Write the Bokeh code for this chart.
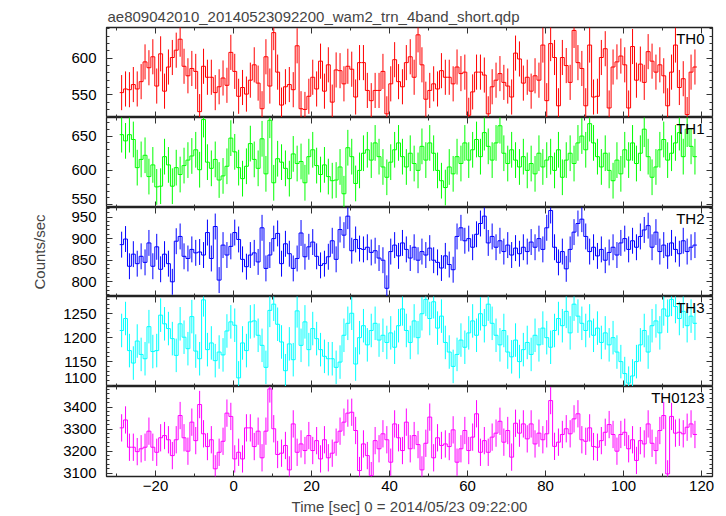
import numpy as np
from bokeh.plotting import figure
from bokeh.layouts import column
from bokeh.models import (LinearAxis, Range1d, Label, SingleIntervalTicker, FixedTicker,
                          CustomLabelingPolicy)
from bokeh.embed import file_html
from bokeh.resources import INLINE

title_text = "ae809042010_20140523092200_wam2_trn_4band_short.qdp"
x_label = "Time [sec] 0 = 2014/05/23 09:22:00"
y_label = "Counts/sec"
band_names = ["TH0", "TH1", "TH2", "TH3", "TH0123"]
band_colors = ["#ff0000", "#00ff00", "#0000ff", "#00ffff", "#ff00ff"]
first_bin_left = -29.2
bin_width = 1.0

th0 = [553, 558, 557, 564, 558, 568, 595, 587, 602, 562, 606, 555, 588, 601, 611, 626, 589, 576, 586, 582,
       527, 589, 574, 574, 553, 561, 573, 563, 608, 582, 548, 560, 551, 570, 591,
       566, 531, 602, 562, 635, 581, 536, 561, 564, 557, 617, 531, 530, 548, 574, 558, 596, 555, 591, 540,
       584, 583, 565, 589, 585, 547, 594, 594, 556, 542, 556, 556, 582, 524, 565, 598, 568, 561,
       594, 602, 574,
       632, 591, 544, 556, 565, 558, 583, 574, 574, 565, 588, 579, 581, 522, 554, 581, 581, 577, 524, 561,
       570, 579, 567, 562, 547, 607, 599, 566, 574, 555, 576, 570, 618, 542,
       620, 601, 535, 601, 590, 567, 638, 594, 586, 535, 618, 547, 548, 601, 613, 532, 588, 595, 603, 591,
       532, 616, 570, 592, 567, 609, 596, 581, 591, 576, 535, 581, 618, 560, 572, 523, 581, 588]
th1 = [652, 643, 652, 645, 604, 616, 622, 591, 608, 576, 577, 620, 608, 577, 604, 594, 607, 615, 621, 630,
       601, 674, 612, 603, 616, 586, 592, 606, 647, 627, 604, 588, 606, 639, 616, 603, 646, 595, 673, 582,
       617, 612, 603, 588, 624, 610, 613, 582, 620, 630, 607, 594, 608, 591, 585, 586, 605, 566, 633, 620, 581,
       600, 625, 630, 615, 640, 620, 605, 590, 612, 630, 640, 620, 605, 625, 610, 600, 635, 615, 640,
       625, 600, 585, 575, 605, 595, 620, 610, 640, 615, 630, 645, 620, 655, 635, 615, 640, 665, 625, 610,
       630, 615, 605, 620, 600, 610, 595, 625, 605, 615, 620, 600, 630, 590, 615, 625, 610, 640, 650, 630,
       668, 640, 620, 605, 625, 600, 585, 615, 595, 630, 615, 640, 610, 625, 660, 620, 590, 605,
       630, 645, 615, 625, 640, 655, 620, 660, 635, 620]
th2 = [886, 899, 836, 864, 842, 859, 845, 890, 836, 881, 829, 864, 842, 800, 894, 905, 859, 854, 875, 867,
       869, 862, 914, 854, 928, 804, 885, 862, 882, 914, 898, 852, 835, 862, 867, 846, 925, 831, 862, 900,
       912, 842, 888, 865, 831, 854, 913, 858, 881, 892, 859, 838, 842, 858, 895, 852, 921, 908, 952, 872,
       898, 877,
       875, 880, 868, 872, 855, 850, 785, 870, 885, 860, 890, 875, 855, 880, 850, 870, 862, 878, 850,
       845, 832, 860, 840, 828, 905, 925, 895, 900, 880, 910, 935, 952, 890, 905, 880, 895, 870, 885,
       862, 878, 865, 880, 870, 892, 880, 900, 875, 925, 965, 880, 845, 870, 830, 875, 915, 935, 945, 905,
       870, 880, 860, 875, 850, 868, 880, 862, 890, 900, 875, 895, 880, 905, 920, 930, 880, 915,
       870, 885, 860, 890, 875, 865, 895, 870, 880, 885]
th3 = [1215, 1240, 1173, 1147, 1193, 1165, 1156, 1223, 1171, 1173, 1247, 1229, 1219, 1198, 1163, 1229, 1201,
       1177, 1244, 1172, 1156, 1279, 1175, 1189, 1152, 1170, 1164, 1214, 1233, 1226, 1116, 1189, 1173, 1233,
       1235, 1205, 1184, 1138, 1257, 1270, 1228, 1191, 1131, 1187, 1154, 1256, 1184, 1233, 1175, 1219, 1198,
       1175, 1161, 1156, 1156, 1138, 1149, 1205, 1230, 1251, 1145,
       1200, 1225, 1185, 1215, 1230, 1195, 1205, 1190, 1210, 1180, 1225, 1260, 1215, 1190,
       1235, 1200, 1250, 1280, 1240, 1275, 1220, 1245, 1190, 1170, 1140, 1165, 1195,
       1180, 1210, 1235, 1205, 1250, 1225, 1270, 1230, 1205, 1185, 1215, 1170,
       1160, 1195, 1150, 1175, 1190, 1165, 1205, 1185, 1220, 1200, 1180,
       1215, 1240, 1225, 1255, 1210, 1270, 1245, 1230, 1215, 1235, 1205, 1220, 1190, 1210, 1185,
       1200, 1170, 1150, 1125, 1105, 1120, 1150, 1185, 1215, 1170, 1225,
       1235, 1210, 1260, 1245, 1280, 1265, 1240, 1255, 1225, 1245, 1230]
th0123 = [3306, 3342, 3218, 3218, 3198, 3211, 3218, 3291, 3218, 3195, 3261, 3271, 3252, 3180, 3252, 3362,
          3261, 3200, 3332, 3248, 3412, 3279, 3221, 3252, 3120, 3195, 3245, 3373, 3358, 3165, 3195, 3165,
          3306, 3306, 3221, 3291, 3170, 3291, 3483, 3302, 3185, 3191, 3226, 3115, 3324, 3195, 3233, 3203,
          3271, 3203, 3248, 3165, 3252, 3170, 3191, 3241, 3291, 3332, 3373,
          3377, 3294, 3112, 3233, 3180, 3089, 3248, 3211, 3279, 3252, 3150, 3324, 3261, 3203, 3332, 3211,
          3271, 3230, 3115, 3236, 3355, 3170, 3261, 3226, 3233, 3221, 3297, 3150, 3211, 3294, 3203, 3264,
          3370, 3195, 3248, 3195, 3264, 3282, 3336, 3241, 3294, 3173, 3327, 3282, 3324, 3256, 3324, 3233,
          3282, 3252, 3279, 3430, 3222, 3241, 3276, 3302, 3279, 3347, 3370, 3252, 3245,
          3306, 3221, 3218, 3248, 3286, 3321, 3276, 3200, 3276, 3286, 3211, 3252, 3158, 3248, 3233,
          3324, 3236, 3203, 3294, 3362, 3097, 3358, 3282, 3286, 3279, 3309, 3324, 3276]

band_values = [th0, th1, th2, th3, th0123]
band_errors = [24, 26, 30, 35, 62]
y_limits = [(519, 642), (546, 677), (766, 972), (1098, 1286), (3085, 3494)]
y_major_step = [50, 50, 50, 50, 100]
x_limits = (-32.58, 122.8)
x_major_step = 20

FONT = "Liberation Sans"
FRAME_W = 606
FRAME_HS = [90, 90, 89, 90, 90]
LEFT_BORDER = 106
TICK_COLOR = "#333333"
EDGE_PAD_PX = 9  # tick labels at a shared panel edge are nudged inside the canvas

x_range = Range1d(*x_limits)
no_labels = CustomLabelingPolicy(code="return new Set()")


def ticks_only(ax):
    ax.axis_line_color = None
    ax.major_tick_in = 6
    ax.major_tick_out = 0
    ax.minor_tick_in = 3
    ax.minor_tick_out = 0
    ax.major_tick_line_color = TICK_COLOR
    ax.minor_tick_line_color = TICK_COLOR
    ax.major_label_policy = no_labels
    ax.major_label_text_font_size = "0px"
    ax.major_label_standoff = 0


figs = []
n_panels = len(band_names)
for i in range(n_panels):
    vals = np.array(band_values[i], dtype=float)
    n = len(vals)
    left_edges = first_bin_left + np.arange(n + 1) * bin_width
    centers = left_edges[:-1] + bin_width / 2
    y0, y1 = y_limits[i]
    step = y_major_step[i]
    last = i == n_panels - 1
    first = i == 0
    fh = FRAME_HS[i]
    px_per_x = FRAME_W / (x_limits[1] - x_limits[0])
    px_per_y = fh / (y1 - y0)

    p = figure(frame_width=FRAME_W, frame_height=fh, x_range=x_range,
               y_range=Range1d(y0, y1), output_backend="svg", toolbar_location=None,
               y_axis_location=None,
               min_border_left=LEFT_BORDER, min_border_right=8,
               min_border_top=27 if first else 0, min_border_bottom=0,
               title=title_text if first else None)
    p.background_fill_color = "white"
    p.border_fill_color = "white"
    p.outline_line_color = "#222222"
    p.outline_line_width = 1.3
    p.xgrid.grid_line_color = None
    p.ygrid.grid_line_color = None

    if first:
        p.title.text_font = FONT
        p.title.text_font_size = "15px"
        p.title.text_font_style = "normal"
        p.title.align = "left"
        p.title.standoff = 5
        p.title.offset = 1

    bax = p.below[0]
    bax.ticker = SingleIntervalTicker(interval=x_major_step, num_minor_ticks=2)
    if last:
        bax.axis_line_color = None
        bax.major_tick_in = 6
        bax.major_tick_out = 0
        bax.minor_tick_in = 3
        bax.minor_tick_out = 0
        bax.major_tick_line_color = TICK_COLOR
        bax.minor_tick_line_color = TICK_COLOR
        bax.major_label_text_font = FONT
        bax.major_label_text_font_size = "15px"
        bax.major_label_text_color = "black"
        bax.major_label_standoff = 4
        bax.axis_label = x_label
        bax.axis_label_text_font = FONT
        bax.axis_label_text_font_size = "15px"
        bax.axis_label_text_font_style = "normal"
        bax.axis_label_standoff = 4
    else:
        ticks_only(bax)

    tick_ax = LinearAxis(ticker=SingleIntervalTicker(interval=step, num_minor_ticks=5))
    ticks_only(tick_ax)
    p.add_layout(tick_ax, "left")

    lo_pad = 0 if last else EDGE_PAD_PX / px_per_y
    hi_pad = 0 if first else EDGE_PAD_PX / px_per_y
    label_ticks, overrides = [], {}
    for tv in np.arange(np.ceil(y0 / step) * step, y1 + 1e-9, step):
        pos = float(min(max(tv, y0 + lo_pad), y1 - hi_pad))
        pos = round(pos, 3)
        label_ticks.append(pos)
        overrides[pos] = str(int(tv))
    lab_ax = LinearAxis(ticker=FixedTicker(ticks=label_ticks, minor_ticks=[]))
    lab_ax.axis_line_color = None
    lab_ax.major_tick_in = 0
    lab_ax.major_tick_out = 0
    lab_ax.minor_tick_in = 0
    lab_ax.minor_tick_out = 0
    lab_ax.major_tick_line_color = None
    lab_ax.minor_tick_line_color = None
    lab_ax.major_label_overrides = overrides
    lab_ax.major_label_text_font = FONT
    lab_ax.major_label_text_font_size = "15px"
    lab_ax.major_label_text_color = "black"
    lab_ax.major_label_standoff = 10
    if i == 2:
        lab_ax.axis_label = y_label
        lab_ax.axis_label_text_font = FONT
        lab_ax.axis_label_text_font_size = "15px"
        lab_ax.axis_label_text_font_style = "normal"
        lab_ax.axis_label_standoff = 20
    p.add_layout(lab_ax, "left")

    top_ax = LinearAxis(ticker=SingleIntervalTicker(interval=x_major_step, num_minor_ticks=2))
    ticks_only(top_ax)
    p.add_layout(top_ax, "above")
    right_ax = LinearAxis(ticker=SingleIntervalTicker(interval=step, num_minor_ticks=5))
    ticks_only(right_ax)
    p.add_layout(right_ax, "right")

    color = band_colors[i]
    err = band_errors[i]
    p.segment(x0=centers, y0=vals - err, x1=centers, y1=vals + err,
              line_color=color, line_width=1)
    p.step(x=left_edges, y=np.append(vals, vals[-1]), mode="after",
           line_color=color, line_width=1)

    p.add_layout(Label(x=x_limits[1] - 8 / px_per_x, y=y1 - 2 / px_per_y,
                       text=band_names[i], text_align="right", text_baseline="top",
                       text_font=FONT, text_font_size="15px", text_color="black"))
    figs.append(p)

layout = column(*figs, spacing=0)
open("out.html", "w").write(file_html(layout, INLINE, title="plot"))
